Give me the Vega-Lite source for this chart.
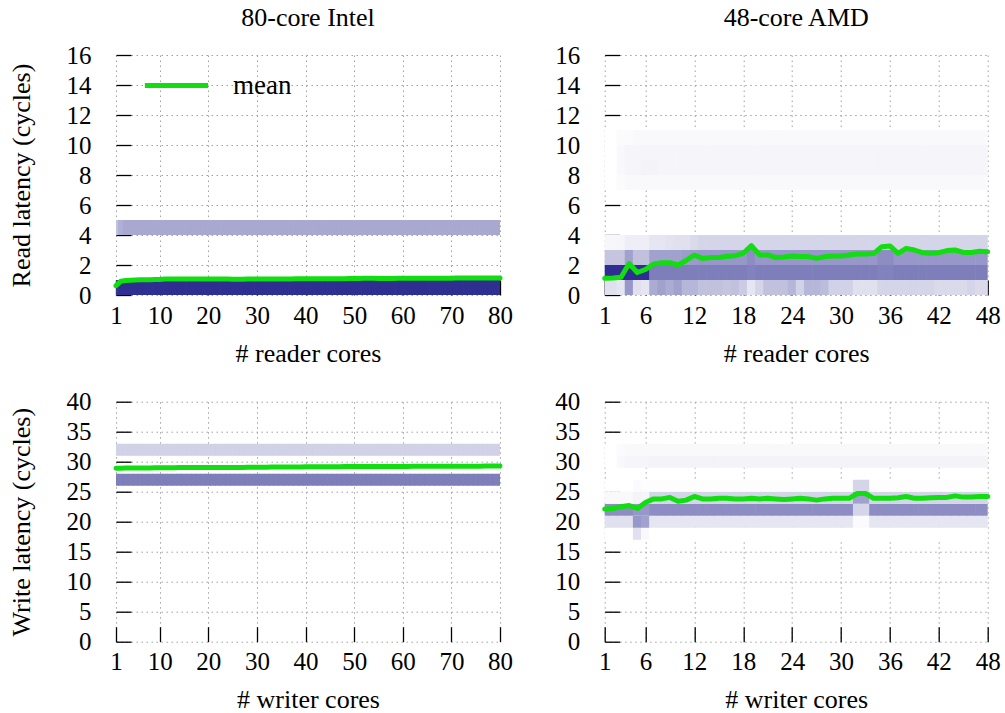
{
  "$schema": "https://vega.github.io/schema/vega-lite/v6.json",
  "background": "white",
  "padding": {"left": 8, "top": 5, "right": 5, "bottom": 2},
  "bounds": "flush",
  "columns": 2,
  "spacing": {"row": 106.7, "column": 104.7},
  "resolve": {"scale": {"stroke": "independent"}, "legend": {"stroke": "independent"}},
  "config": {
    "font": "Liberation Serif",
    "view": {"stroke": null},
    "axis": {"domain": false, "tickSize": -15, "tickColor": "#000", "tickWidth": 1.3, "grid": true, "gridColor": "#a0a0a0", "gridDash": [1.5, 3.5], "gridWidth": 1, "labelFontSize": 25, "labelColor": "#000", "labelFont": "Liberation Serif", "titleFont": "Liberation Serif", "titleFontSize": 26, "titleFontWeight": "normal", "titleColor": "#000", "zindex": 1, "labelFlush": false, "labelOverlap": false},
    "axisX": {"labelPadding": 23, "titlePadding": 12},
    "axisY": {"labelPadding": 40, "titlePadding": 32},
    "title": {"fontSize": 26, "fontWeight": "normal", "font": "Liberation Serif", "color": "#000", "offset": 12}
  },
  "datasets": {
    "ir": [
      {"lo": 0, "hi": 1, "c": [1,2,3,4,5,6,7,8,9,10,11,12,13,14,15,16,17,18,19,20,21,22,23,24,25,26,27,28,29,30,31,32,33,34,35,36,37,38,39,40,41,42,43,44,45,46,47,48,49,50,51,52,53,54,55,56,57,58,59,60,61,62,63,64,65,66,67,68,69,70,71,72,73,74,75,76,77,78,79,80],
       "v": [0.97,1,1,1,1,1,1,1,1,1,1,1,1,1,1,1,1,1,1,1,1,1,1,1,1,1,1,1,1,1,1,1,1,1,1,1,1,1,1,1,1,1,1,1,1,1,1,1,1,1,1,1,1,1,1,1,1,1,1,1,1,1,1,1,1,1,1,1,1,1,1,1,1,1,1,1,1,1,1,1]},
      {"lo": 4, "hi": 5, "c": [1,2,3,4,5,6,7,8,9,10,11,12,13,14,15,16,17,18,19,20,21,22,23,24,25,26,27,28,29,30,31,32,33,34,35,36,37,38,39,40,41,42,43,44,45,46,47,48,49,50,51,52,53,54,55,56,57,58,59,60,61,62,63,64,65,66,67,68,69,70,71,72,73,74,75,76,77,78,79,80],
       "v": [0.3,0.38,0.42,0.42,0.42,0.42,0.42,0.42,0.42,0.42,0.42,0.42,0.42,0.42,0.42,0.42,0.42,0.42,0.42,0.42,0.42,0.42,0.42,0.42,0.42,0.42,0.42,0.42,0.42,0.42,0.42,0.42,0.42,0.42,0.42,0.42,0.42,0.42,0.42,0.42,0.42,0.42,0.42,0.42,0.42,0.42,0.42,0.42,0.42,0.42,0.42,0.42,0.42,0.42,0.42,0.42,0.42,0.42,0.42,0.42,0.42,0.42,0.42,0.42,0.42,0.42,0.42,0.42,0.42,0.42,0.42,0.42,0.42,0.42,0.42,0.42,0.42,0.42,0.42,0.42]}
    ],
    "irm": [
      {"c": [1,2,3,4,5,6,7,8,9,10,11,12,13,14,15,16,17,18,19,20,21,22,23,24,25,26,27,28,29,30,31,32,33,34,35,36,37,38,39,40,41,42,43,44,45,46,47,48,49,50,51,52,53,54,55,56,57,58,59,60,61,62,63,64,65,66,67,68,69,70,71,72,73,74,75,76,77,78,79,80],
       "m": [0.62,0.92,0.97,0.99,1.0,1.01,1.01,1.02,1.03,1.04,1.06,1.07,1.07,1.07,1.07,1.07,1.07,1.07,1.07,1.07,1.06,1.06,1.06,1.06,1.05,1.05,1.05,1.06,1.06,1.06,1.06,1.07,1.07,1.07,1.07,1.07,1.07,1.08,1.08,1.08,1.08,1.08,1.09,1.09,1.09,1.09,1.09,1.09,1.1,1.1,1.1,1.11,1.11,1.11,1.1,1.1,1.1,1.1,1.11,1.11,1.11,1.11,1.12,1.12,1.12,1.12,1.12,1.12,1.12,1.12,1.13,1.13,1.13,1.13,1.13,1.13,1.14,1.14,1.14,1.14]}
    ],
    "iw": [
      {"lo": 26, "hi": 28, "c": [1,2,3,4,5,6,7,8,9,10,11,12,13,14,15,16,17,18,19,20,21,22,23,24,25,26,27,28,29,30,31,32,33,34,35,36,37,38,39,40,41,42,43,44,45,46,47,48,49,50,51,52,53,54,55,56,57,58,59,60,61,62,63,64,65,66,67,68,69,70,71,72,73,74,75,76,77,78,79,80],
       "v": [0.62,0.62,0.62,0.62,0.62,0.62,0.62,0.62,0.62,0.62,0.62,0.62,0.62,0.62,0.62,0.62,0.62,0.62,0.62,0.62,0.62,0.62,0.62,0.62,0.62,0.62,0.62,0.62,0.62,0.62,0.62,0.62,0.62,0.62,0.62,0.62,0.62,0.62,0.62,0.62,0.62,0.62,0.62,0.62,0.62,0.62,0.62,0.62,0.62,0.62,0.62,0.62,0.62,0.62,0.62,0.62,0.62,0.62,0.62,0.62,0.62,0.62,0.62,0.62,0.62,0.62,0.62,0.62,0.62,0.62,0.62,0.62,0.62,0.62,0.62,0.62,0.62,0.62,0.62,0.62]},
      {"lo": 31, "hi": 33, "c": [1,2,3,4,5,6,7,8,9,10,11,12,13,14,15,16,17,18,19,20,21,22,23,24,25,26,27,28,29,30,31,32,33,34,35,36,37,38,39,40,41,42,43,44,45,46,47,48,49,50,51,52,53,54,55,56,57,58,59,60,61,62,63,64,65,66,67,68,69,70,71,72,73,74,75,76,77,78,79,80],
       "v": [0.22,0.22,0.22,0.22,0.22,0.22,0.22,0.22,0.22,0.22,0.22,0.22,0.22,0.22,0.22,0.22,0.22,0.22,0.22,0.22,0.22,0.22,0.22,0.22,0.22,0.22,0.22,0.22,0.22,0.22,0.22,0.22,0.22,0.22,0.22,0.22,0.22,0.22,0.22,0.22,0.22,0.22,0.22,0.22,0.22,0.22,0.22,0.22,0.22,0.22,0.22,0.22,0.22,0.22,0.22,0.22,0.22,0.22,0.22,0.22,0.22,0.22,0.22,0.22,0.22,0.22,0.22,0.22,0.22,0.22,0.22,0.22,0.22,0.22,0.22,0.22,0.22,0.22,0.22,0.22]}
    ],
    "iwm": [
      {"c": [1,2,3,4,5,6,7,8,9,10,11,12,13,14,15,16,17,18,19,20,21,22,23,24,25,26,27,28,29,30,31,32,33,34,35,36,37,38,39,40,41,42,43,44,45,46,47,48,49,50,51,52,53,54,55,56,57,58,59,60,61,62,63,64,65,66,67,68,69,70,71,72,73,74,75,76,77,78,79,80],
       "m": [28.9,28.92,28.93,28.94,28.95,28.96,28.97,28.97,28.98,28.98,29.0,29.0,29.01,29.02,29.03,29.03,29.04,29.05,29.05,29.05,29.05,29.04,29.04,29.03,29.03,29.04,29.05,29.06,29.07,29.08,29.08,29.09,29.1,29.1,29.11,29.12,29.12,29.13,29.13,29.14,29.14,29.15,29.15,29.16,29.16,29.17,29.17,29.18,29.18,29.19,29.19,29.19,29.2,29.2,29.2,29.21,29.21,29.21,29.22,29.22,29.22,29.23,29.23,29.23,29.24,29.24,29.24,29.25,29.25,29.25,29.25,29.25,29.26,29.26,29.26,29.26,29.27,29.27,29.27,29.28]}
    ],
    "ar": [
      {"lo": 0, "hi": 1, "c": [1,2,3,4,5,6,7,8,9,10,11,12,13,14,15,16,17,18,19,20,21,22,23,24,25,26,27,28,29,30,31,32,33,34,35,36,37,38,39,40,41,42,43,44,45,46,47,48],
       "v": [0.15,0.15,0.12,0.5,0.15,0.12,0.4,0.45,0.4,0.45,0.35,0.35,0.3,0.3,0.3,0.28,0.3,0.25,0.12,0.2,0.3,0.3,0.3,0.35,0.22,0.35,0.35,0.32,0.22,0.22,0.22,0.15,0.15,0.15,0.2,0.2,0.2,0.2,0.2,0.2,0.2,0.18,0.18,0.18,0.18,0.2,0.18,0.18]},
      {"lo": 1, "hi": 2, "c": [1,2,3,4,5,6,7,8,9,10,11,12,13,14,15,16,17,18,19,20,21,22,23,24,25,26,27,28,29,30,31,32,33,34,35,36,37,38,39,40,41,42,43,44,45,46,47,48],
       "v": [1,1,1,1,1,1,0.62,0.62,0.62,0.62,0.62,0.62,0.62,0.62,0.62,0.62,0.62,0.62,0.6,0.62,0.62,0.62,0.62,0.62,0.62,0.62,0.62,0.62,0.62,0.62,0.62,0.62,0.62,0.62,0.6,0.6,0.62,0.62,0.62,0.62,0.62,0.62,0.62,0.62,0.62,0.62,0.62,0.62]},
      {"lo": 2, "hi": 3, "c": [1,2,3,4,5,6,7,8,9,10,11,12,13,14,15,16,17,18,19,20,21,22,23,24,25,26,27,28,29,30,31,32,33,34,35,36,37,38,39,40,41,42,43,44,45,46,47,48],
       "v": [0.28,0.28,0.28,0.45,0.3,0.3,0.45,0.45,0.45,0.45,0.47,0.48,0.5,0.5,0.5,0.5,0.5,0.5,0.55,0.5,0.5,0.5,0.5,0.5,0.5,0.5,0.5,0.5,0.5,0.5,0.5,0.5,0.5,0.5,0.55,0.55,0.5,0.5,0.5,0.5,0.5,0.5,0.5,0.5,0.5,0.5,0.5,0.5]},
      {"lo": 3, "hi": 4, "c": [1,2,3,4,5,6,7,8,9,10,11,12,13,14,15,16,17,18,19,20,21,22,23,24,25,26,27,28,29,30,31,32,33,34,35,36,37,38,39,40,41,42,43,44,45,46,47,48],
       "v": [0.04,0.04,0.05,0.08,0.08,0.08,0.12,0.12,0.14,0.15,0.15,0.18,0.2,0.2,0.2,0.2,0.2,0.2,0.2,0.2,0.2,0.2,0.2,0.2,0.2,0.2,0.2,0.2,0.2,0.2,0.2,0.2,0.2,0.2,0.2,0.2,0.2,0.2,0.2,0.2,0.2,0.2,0.2,0.2,0.2,0.2,0.2,0.2]},
      {"lo": 7, "hi": 8, "c": [1,2,3,4,5,6,7,8,9,10,11,12,13,14,15,16,17,18,19,20,21,22,23,24,25,26,27,28,29,30,31,32,33,34,35,36,37,38,39,40,41,42,43,44,45,46,47,48],
       "v": [0,0,0.02,0.03,0.03,0.03,0.03,0.03,0.03,0.03,0.03,0.03,0.03,0.03,0.03,0.03,0.03,0.03,0.03,0.03,0.03,0.03,0.03,0.03,0.03,0.03,0.03,0.03,0.03,0.03,0.03,0.03,0.03,0.03,0.03,0.03,0.03,0.03,0.03,0.03,0.03,0.03,0.03,0.03,0.03,0.03,0.03,0.03]},
      {"lo": 8, "hi": 9, "c": [1,2,3,4,5,6,7,8,9,10,11,12,13,14,15,16,17,18,19,20,21,22,23,24,25,26,27,28,29,30,31,32,33,34,35,36,37,38,39,40,41,42,43,44,45,46,47,48],
       "v": [0,0,0.03,0.05,0.05,0.06,0.06,0.05,0.05,0.05,0.05,0.05,0.05,0.05,0.05,0.05,0.05,0.05,0.05,0.05,0.05,0.05,0.05,0.05,0.05,0.05,0.05,0.05,0.05,0.05,0.05,0.05,0.05,0.05,0.05,0.05,0.05,0.05,0.05,0.05,0.05,0.05,0.05,0.05,0.05,0.05,0.05,0.05]},
      {"lo": 9, "hi": 10, "c": [1,2,3,4,5,6,7,8,9,10,11,12,13,14,15,16,17,18,19,20,21,22,23,24,25,26,27,28,29,30,31,32,33,34,35,36,37,38,39,40,41,42,43,44,45,46,47,48],
       "v": [0,0,0.03,0.05,0.05,0.05,0.05,0.05,0.05,0.05,0.05,0.05,0.05,0.05,0.05,0.05,0.05,0.05,0.05,0.05,0.05,0.05,0.05,0.05,0.05,0.05,0.05,0.05,0.05,0.05,0.05,0.05,0.05,0.05,0.05,0.05,0.05,0.05,0.05,0.05,0.05,0.05,0.05,0.05,0.05,0.05,0.05,0.05]},
      {"lo": 10, "hi": 11, "c": [1,2,3,4,5,6,7,8,9,10,11,12,13,14,15,16,17,18,19,20,21,22,23,24,25,26,27,28,29,30,31,32,33,34,35,36,37,38,39,40,41,42,43,44,45,46,47,48],
       "v": [0,0,0.02,0.02,0.03,0.03,0.03,0.03,0.03,0.03,0.03,0.03,0.03,0.03,0.03,0.03,0.03,0.03,0.03,0.03,0.03,0.03,0.03,0.03,0.03,0.03,0.03,0.03,0.03,0.03,0.03,0.03,0.03,0.03,0.03,0.03,0.03,0.03,0.03,0.03,0.03,0.03,0.03,0.03,0.03,0.03,0.03,0.03]}
    ],
    "arm": [
      {"c": [1,2,3,4,5,6,7,8,9,10,11,12,13,14,15,16,17,18,19,20,21,22,23,24,25,26,27,28,29,30,31,32,33,34,35,36,37,38,39,40,41,42,43,44,45,46,47,48],
       "m": [1.11,1.13,1.18,2.1,1.5,1.7,2.07,2.15,2.15,2.0,2.3,2.67,2.44,2.5,2.5,2.58,2.62,2.78,3.29,2.67,2.67,2.5,2.53,2.6,2.56,2.56,2.44,2.56,2.6,2.6,2.67,2.73,2.73,2.76,3.22,3.27,2.78,3.11,3.0,2.82,2.78,2.82,2.96,3.0,2.84,2.84,2.91,2.89]}
    ],
    "aw": [
      {"lo": 17, "hi": 19, "c": [1,2,3,4,5,6,7,8,9,10,11,12,13,14,15,16,17,18,19,20,21,22,23,24,25,26,27,28,29,30,31,32,33,34,35,36,37,38,39,40,41,42,43,44,45,46,47,48],
       "v": [0,0,0,0,0.15,0.03,0,0,0,0,0,0,0,0,0,0,0,0,0,0,0,0,0,0,0,0,0,0,0,0,0,0,0,0,0,0,0,0,0,0,0,0,0,0,0,0,0,0]},
      {"lo": 19, "hi": 21, "c": [1,2,3,4,5,6,7,8,9,10,11,12,13,14,15,16,17,18,19,20,21,22,23,24,25,26,27,28,29,30,31,32,33,34,35,36,37,38,39,40,41,42,43,44,45,46,47,48],
       "v": [0.15,0.15,0.15,0.15,0.5,0.45,0.12,0.12,0.12,0.12,0.12,0.12,0.12,0.12,0.12,0.12,0.12,0.12,0.12,0.12,0.12,0.12,0.12,0.12,0.12,0.12,0.12,0.12,0.12,0.12,0.12,0.02,0.02,0.12,0.12,0.12,0.12,0.12,0.12,0.12,0.12,0.12,0.12,0.12,0.12,0.12,0.12,0.12]},
      {"lo": 21, "hi": 23, "c": [1,2,3,4,5,6,7,8,9,10,11,12,13,14,15,16,17,18,19,20,21,22,23,24,25,26,27,28,29,30,31,32,33,34,35,36,37,38,39,40,41,42,43,44,45,46,47,48],
       "v": [0.55,0.55,0.55,0.55,0.5,0.5,0.55,0.55,0.55,0.55,0.55,0.55,0.55,0.55,0.55,0.55,0.55,0.55,0.55,0.55,0.55,0.55,0.55,0.55,0.55,0.55,0.55,0.55,0.55,0.55,0.55,0.2,0.2,0.55,0.55,0.55,0.55,0.55,0.55,0.55,0.55,0.55,0.55,0.55,0.55,0.55,0.55,0.55]},
      {"lo": 23, "hi": 25, "c": [1,2,3,4,5,6,7,8,9,10,11,12,13,14,15,16,17,18,19,20,21,22,23,24,25,26,27,28,29,30,31,32,33,34,35,36,37,38,39,40,41,42,43,44,45,46,47,48],
       "v": [0.03,0.03,0.03,0.03,0.06,0.05,0.2,0.2,0.2,0.2,0.2,0.2,0.2,0.2,0.2,0.2,0.2,0.2,0.2,0.2,0.2,0.2,0.2,0.2,0.2,0.2,0.2,0.2,0.2,0.2,0.2,0.45,0.45,0.2,0.2,0.2,0.2,0.2,0.2,0.2,0.2,0.2,0.2,0.2,0.2,0.2,0.2,0.2]},
      {"lo": 25, "hi": 27, "c": [1,2,3,4,5,6,7,8,9,10,11,12,13,14,15,16,17,18,19,20,21,22,23,24,25,26,27,28,29,30,31,32,33,34,35,36,37,38,39,40,41,42,43,44,45,46,47,48],
       "v": [0,0,0,0,0.02,0.01,0.01,0.01,0.01,0.01,0.01,0.01,0.01,0.01,0.01,0.01,0.01,0.01,0.01,0.01,0.01,0.01,0.01,0.01,0.01,0.01,0.01,0.01,0.01,0.01,0.01,0.2,0.2,0.01,0.01,0.01,0.01,0.01,0.01,0.01,0.01,0.01,0.01,0.01,0.01,0.01,0.01,0.01]},
      {"lo": 29, "hi": 31, "c": [1,2,3,4,5,6,7,8,9,10,11,12,13,14,15,16,17,18,19,20,21,22,23,24,25,26,27,28,29,30,31,32,33,34,35,36,37,38,39,40,41,42,43,44,45,46,47,48],
       "v": [0,0,0.03,0.05,0.05,0.05,0.06,0.06,0.06,0.06,0.06,0.06,0.06,0.06,0.06,0.06,0.06,0.06,0.06,0.06,0.06,0.06,0.06,0.06,0.06,0.06,0.06,0.06,0.06,0.06,0.06,0.06,0.06,0.06,0.06,0.06,0.06,0.06,0.06,0.06,0.06,0.06,0.06,0.06,0.06,0.06,0.06,0.06]},
      {"lo": 31, "hi": 33, "c": [1,2,3,4,5,6,7,8,9,10,11,12,13,14,15,16,17,18,19,20,21,22,23,24,25,26,27,28,29,30,31,32,33,34,35,36,37,38,39,40,41,42,43,44,45,46,47,48],
       "v": [0,0,0.02,0.03,0.03,0.03,0.03,0.03,0.03,0.03,0.03,0.03,0.03,0.03,0.03,0.03,0.03,0.03,0.03,0.03,0.03,0.03,0.03,0.03,0.03,0.03,0.03,0.03,0.03,0.03,0.03,0.03,0.03,0.03,0.03,0.03,0.03,0.03,0.03,0.03,0.03,0.03,0.03,0.03,0.03,0.03,0.03,0.03]}
    ],
    "awm": [
      {"c": [1,2,3,4,5,6,7,8,9,10,11,12,13,14,15,16,17,18,19,20,21,22,23,24,25,26,27,28,29,30,31,32,33,34,35,36,37,38,39,40,41,42,43,44,45,46,47,48],
       "m": [22.1,22.2,22.5,22.7,22.2,23.2,23.8,23.8,24.05,23.4,23.6,24.2,23.8,23.8,23.9,23.9,23.8,23.8,23.9,23.8,23.9,23.8,23.7,23.8,23.9,23.8,23.6,23.8,23.9,23.9,23.9,24.7,24.7,23.9,23.9,23.9,24.0,24.2,23.9,23.9,24.0,24.05,24.05,24.3,24.1,24.1,24.2,24.2]}
    ]
  },
  "concat": [
    {
      "width": 384, "height": 240,
      "title": {"text": "80-core Intel"},
      "layer": [
        {
          "data": {"name": "ir"},
          "transform": [{"flatten": ["c", "v"]}],
          "mark": {"type": "rect", "width": 5.6, "clip": true},
          "encoding": {
            "x": {"field": "c", "type": "quantitative", "scale": {"domain": [1, 80], "nice": false, "zero": false}, "axis": {"values": [1,10,20,30,40,50,60,70,80], "title": "# reader cores"}},
            "y": {"field": "lo", "type": "quantitative", "scale": {"domain": [0, 16], "nice": false}, "axis": {"values": [0,2,4,6,8,10,12,14,16], "title": "Read latency (cycles)"}},
            "y2": {"field": "hi"},
            "color": {"field": "v", "type": "quantitative", "scale": {"domain": [0, 1], "range": ["#ffffff", "#2f2f92"], "interpolate": "rgb"}, "legend": null}
          }
        },
        {
          "data": {"name": "irm"},
          "transform": [{"flatten": ["c", "m"]}],
          "mark": {"type": "line", "strokeWidth": 5, "strokeCap": "round", "strokeJoin": "round"},
          "encoding": {
            "x": {"field": "c", "type": "quantitative", "axis": {"values": [1,10,20,30,40,50,60,70,80], "title": "# reader cores"}},
            "y": {"field": "m", "type": "quantitative", "axis": {"values": [0,2,4,6,8,10,12,14,16], "title": "Read latency (cycles)"}},
            "stroke": {"datum": "mean", "type": "nominal", "scale": {"range": ["#11dd11"]},
              "legend": {"orient": "none", "legendX": 26, "legendY": -4, "title": null, "symbolType": "stroke", "symbolSize": 4000, "symbolStrokeWidth": 5, "labelFontSize": 27, "labelFont": "Liberation Serif", "labelColor": "#000", "labelOffset": 22, "padding": 0}}
          }
        }
      ]
    },
    {
      "width": 383, "height": 240,
      "title": {"text": "48-core AMD"},
      "layer": [
        {
          "data": {"name": "ar"},
          "transform": [{"flatten": ["c", "v"]}],
          "mark": {"type": "rect", "width": 8.8, "clip": true},
          "encoding": {
            "x": {"field": "c", "type": "quantitative", "scale": {"domain": [1, 48], "nice": false, "zero": false}, "axis": {"values": [1,6,12,18,24,30,36,42,48], "title": "# reader cores"}},
            "y": {"field": "lo", "type": "quantitative", "scale": {"domain": [0, 16], "nice": false}, "axis": {"values": [0,2,4,6,8,10,12,14,16], "title": null}},
            "y2": {"field": "hi"},
            "color": {"field": "v", "type": "quantitative", "scale": {"domain": [0, 1], "range": ["#ffffff", "#2f2f92"], "interpolate": "rgb"}, "legend": null}
          }
        },
        {
          "data": {"name": "arm"},
          "transform": [{"flatten": ["c", "m"]}],
          "mark": {"type": "line", "color": "#11dd11", "strokeWidth": 5, "strokeCap": "round", "strokeJoin": "round"},
          "encoding": {
            "x": {"field": "c", "type": "quantitative", "axis": {"values": [1,6,12,18,24,30,36,42,48], "title": "# reader cores"}},
            "y": {"field": "m", "type": "quantitative", "axis": {"values": [0,2,4,6,8,10,12,14,16], "title": null}}
          }
        }
      ]
    },
    {
      "width": 384, "height": 240,
      "layer": [
        {
          "data": {"name": "iw"},
          "transform": [{"flatten": ["c", "v"]}],
          "mark": {"type": "rect", "width": 5.6, "clip": true},
          "encoding": {
            "x": {"field": "c", "type": "quantitative", "scale": {"domain": [1, 80], "nice": false, "zero": false}, "axis": {"values": [1,10,20,30,40,50,60,70,80], "title": "# writer cores"}},
            "y": {"field": "lo", "type": "quantitative", "scale": {"domain": [0, 40], "nice": false}, "axis": {"values": [0,5,10,15,20,25,30,35,40], "title": "Write latency (cycles)"}},
            "y2": {"field": "hi"},
            "color": {"field": "v", "type": "quantitative", "scale": {"domain": [0, 1], "range": ["#ffffff", "#2f2f92"], "interpolate": "rgb"}, "legend": null}
          }
        },
        {
          "data": {"name": "iwm"},
          "transform": [{"flatten": ["c", "m"]}],
          "mark": {"type": "line", "color": "#11dd11", "strokeWidth": 5, "strokeCap": "round", "strokeJoin": "round"},
          "encoding": {
            "x": {"field": "c", "type": "quantitative", "axis": {"values": [1,10,20,30,40,50,60,70,80], "title": "# writer cores"}},
            "y": {"field": "m", "type": "quantitative", "axis": {"values": [0,5,10,15,20,25,30,35,40], "title": "Write latency (cycles)"}}
          }
        }
      ]
    },
    {
      "width": 383, "height": 240,
      "layer": [
        {
          "data": {"name": "aw"},
          "transform": [{"flatten": ["c", "v"]}],
          "mark": {"type": "rect", "width": 8.8, "clip": true},
          "encoding": {
            "x": {"field": "c", "type": "quantitative", "scale": {"domain": [1, 48], "nice": false, "zero": false}, "axis": {"values": [1,6,12,18,24,30,36,42,48], "title": "# writer cores"}},
            "y": {"field": "lo", "type": "quantitative", "scale": {"domain": [0, 40], "nice": false}, "axis": {"values": [0,5,10,15,20,25,30,35,40], "title": null}},
            "y2": {"field": "hi"},
            "color": {"field": "v", "type": "quantitative", "scale": {"domain": [0, 1], "range": ["#ffffff", "#2f2f92"], "interpolate": "rgb"}, "legend": null}
          }
        },
        {
          "data": {"name": "awm"},
          "transform": [{"flatten": ["c", "m"]}],
          "mark": {"type": "line", "color": "#11dd11", "strokeWidth": 5, "strokeCap": "round", "strokeJoin": "round"},
          "encoding": {
            "x": {"field": "c", "type": "quantitative", "axis": {"values": [1,6,12,18,24,30,36,42,48], "title": "# writer cores"}},
            "y": {"field": "m", "type": "quantitative", "axis": {"values": [0,5,10,15,20,25,30,35,40], "title": null}}
          }
        }
      ]
    }
  ]
}
